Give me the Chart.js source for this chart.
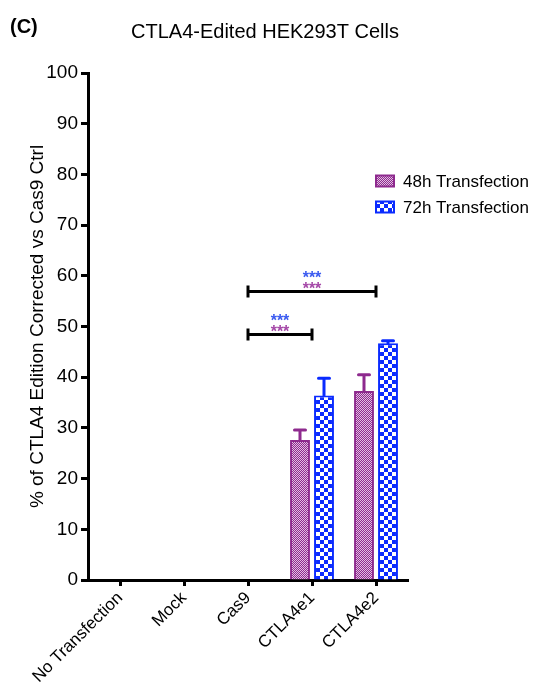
<!DOCTYPE html>
<html>
<head>
<meta charset="utf-8">
<script src="https://cdn.jsdelivr.net/npm/chart.js@4.4.1/dist/chart.umd.min.js"></script>
<style>
  html, body { margin: 0; padding: 0; background: #fff; }
  #wrap { width: 533px; height: 684px; }
</style>
</head>
<body>
<div id="wrap"><canvas id="myChart" width="533" height="684"></canvas></div>
<script>
// data
const categories = ['No Transfection', 'Mock', 'Cas9', 'CTLA4e1', 'CTLA4e2'];
const seriesNames = ['48h Transfection', '72h Transfection'];
const values48 = [0, 0, 0, 27.6, 37.3];
const values72 = [0, 0, 0, 36.4, 46.7];
const errors48 = [0, 0, 0, 2.0, 3.2];
const errors72 = [0, 0, 0, 3.4, 0.5];
const yTicks = [0, 10, 20, 30, 40, 50, 60, 70, 80, 90, 100];

// significance brackets (category index from/to, height in %)
const bracketFrom = [2, 2];
const bracketTo = [3, 4];
const bracketY = [48.4, 56.9];
const bracketMark = ['***', '***'];

const chartTitle = 'CTLA4-Edited HEK293T Cells';
const panelLetter = '(C)';

const FONT = "'Liberation Sans', Arial, sans-serif";
const purple = '#8e2a8e';
const blue = '#0a2bff';

// fill patterns
function makePattern(size, cell, dark, light) {
    const c = document.createElement('canvas');
    c.width = size; c.height = size;
    const g = c.getContext('2d');
    g.fillStyle = dark;
    g.fillRect(0, 0, size, size);
    g.fillStyle = light;
    for (let yy = 0; yy < size; yy += cell) {
        for (let xx = 0; xx < size; xx += cell) {
            if (((xx + yy) / cell) % 2 === 0) g.fillRect(xx, yy, cell, cell);
        }
    }
    return document.getElementById('myChart').getContext('2d').createPattern(c, 'repeat');
}
const pattern48 = makePattern(2, 1, purple, '#e2bfe2');
const pattern72 = makePattern(8, 4, blue, '#ffffff');
const lineColors = [purple, blue];

const extras = {
    id: 'extras',
    afterDatasetsDraw(chart) {
        const ctx = chart.ctx;
        const y = chart.scales.y, x = chart.scales.x;
        // error bars (upper only)
        [errors48, errors72].forEach((errs, di) => {
            const meta = chart.getDatasetMeta(di);
            meta.data.forEach((bar, i) => {
                if (!errs[i]) return;
                const top = y.getPixelForValue(chart.data.datasets[di].data[i] + errs[i]);
                ctx.save();
                ctx.strokeStyle = lineColors[di];
                ctx.lineWidth = 3;
                ctx.lineCap = 'round';
                ctx.beginPath();
                ctx.moveTo(bar.x, bar.y);
                ctx.lineTo(bar.x, top);
                ctx.moveTo(bar.x - 5.5, top);
                ctx.lineTo(bar.x + 5.5, top);
                ctx.stroke();
                ctx.restore();
            });
        });
        // brackets with stars
        bracketY.forEach((v, k) => {
            const x1 = x.getPixelForValue(bracketFrom[k]);
            const x2 = x.getPixelForValue(bracketTo[k]);
            const py = y.getPixelForValue(v);
            ctx.save();
            ctx.strokeStyle = '#000';
            ctx.lineWidth = 3;
            ctx.beginPath();
            ctx.moveTo(x1, py); ctx.lineTo(x2, py);
            ctx.moveTo(x1, py - 6); ctx.lineTo(x1, py + 6);
            ctx.moveTo(x2, py - 6); ctx.lineTo(x2, py + 6);
            ctx.stroke();
            ctx.font = 'bold 16px ' + FONT;
            ctx.textAlign = 'center';
            ctx.textBaseline = 'alphabetic';
            const cx = (x1 + x2) / 2;
            ctx.fillStyle = '#a548a8';
            ctx.fillText(bracketMark[k], cx, py + 2);
            ctx.fillStyle = '#3a5af0';
            ctx.fillText(bracketMark[k], cx, py - 8.5);
            ctx.restore();
        });
    },
    afterDraw(chart) {
        const ctx = chart.ctx;
        ctx.save();
        ctx.fillStyle = '#000';
        ctx.textBaseline = 'alphabetic';
        // panel letter and title
        ctx.font = 'bold 20px ' + FONT;
        ctx.textAlign = 'left';
        ctx.fillText(panelLetter, 10, 33);
        ctx.font = '20px ' + FONT;
        ctx.textAlign = 'center';
        ctx.fillText(chartTitle, 265, 38);
        // legend
        const fills = [pattern48, pattern72];
        ctx.font = '17px ' + FONT;
        ctx.textAlign = 'left';
        ctx.textBaseline = 'middle';
        seriesNames.forEach((name, i) => {
            const cy = 181 + i * 26;
            ctx.fillStyle = lineColors[i];
            ctx.fillRect(375, cy - 6.5, 20, 13);
            ctx.fillStyle = fills[i];
            ctx.fillRect(377, cy - 4.5, 16, 9);
            ctx.fillStyle = '#000';
            ctx.fillText(name, 403, cy + 1);
        });
        ctx.restore();
    }
};

new Chart(document.getElementById('myChart').getContext('2d'), {
    type: 'bar',
    data: {
        labels: categories,
        datasets: [{
            label: seriesNames[0],
            data: values48,
            backgroundColor: pattern48,
            borderColor: purple,
            borderWidth: 2,
            borderSkipped: 'bottom'
        }, {
            label: seriesNames[1],
            data: values72,
            backgroundColor: pattern72,
            borderColor: blue,
            borderWidth: 2,
            borderSkipped: 'bottom'
        }]
    },
    options: {
        responsive: false,
        animation: false,
        events: [],
        categoryPercentage: 0.75,
        barPercentage: 0.83,
        layout: { padding: { left: 0, right: 125, top: 73, bottom: 0 } },
        plugins: {
            legend: { display: false },
            tooltip: { enabled: false },
            title: { display: false }
        },
        scales: {
            x: {
                grid: { display: true, drawOnChartArea: false, offset: false, tickLength: 6, tickWidth: 3, tickColor: '#000' },
                border: { display: true, color: '#000', width: 3 },
                ticks: {
                    autoSkip: false, minRotation: 45, maxRotation: 45, padding: 2,
                    color: '#000', font: { family: FONT, size: 17 }
                },
                afterFit(scale) { scale.height = 104; }
            },
            y: {
                min: 0, max: 100,
                afterBuildTicks(scale) { scale.ticks = yTicks.map(v => ({ value: v })); },
                grid: { display: true, drawOnChartArea: false, tickLength: 7, tickWidth: 3, tickColor: '#000' },
                border: { display: true, color: '#000', width: 3 },
                ticks: { padding: 3, color: '#000', font: { family: FONT, size: 19 } },
                title: {
                    display: true,
                    text: '% of CTLA4 Edition Corrected vs Cas9 Ctrl',
                    color: '#000',
                    font: { family: FONT, size: 19 },
                    padding: { top: 26, bottom: 0 }
                },
                afterFit(scale) { scale.width = 88; }
            }
        }
    },
    plugins: [extras]
});
</script>
</body>
</html>
